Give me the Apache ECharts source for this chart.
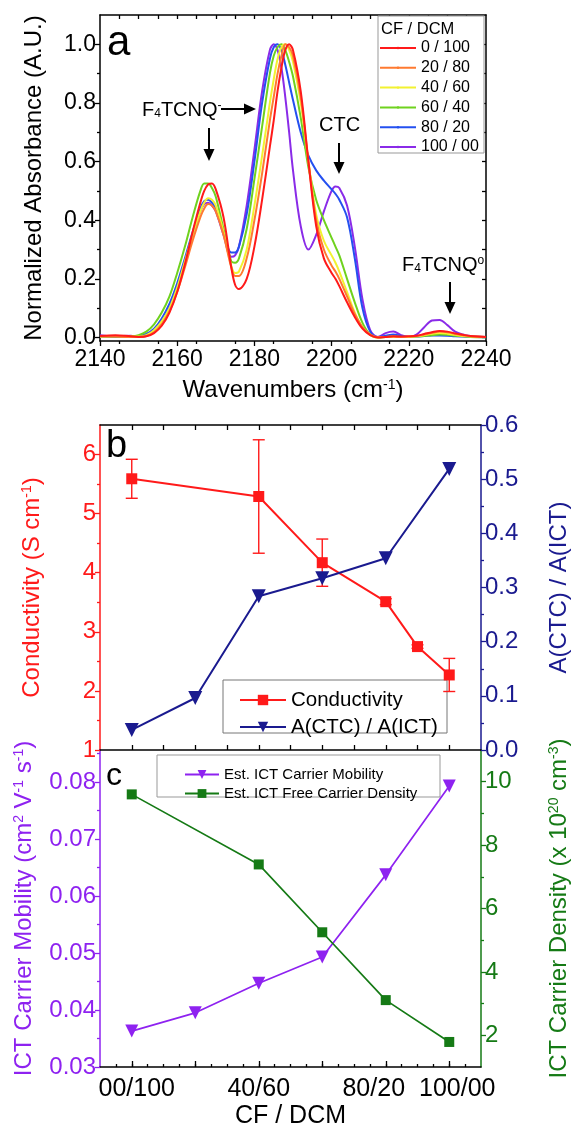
<!DOCTYPE html>
<html lang="en">
<head>
<meta charset="UTF-8">
<title>FTIR / conductivity / mobility</title>
<style>
  html, body { margin: 0; padding: 0; background: #fff; }
  #chart { width: 579px; height: 1132px; }
</style>
<script src="https://cdn.jsdelivr.net/npm/echarts@6/dist/echarts.min.js"></script>
</head>
<body>
<div id="chart"></div>
<script>
// ---- panel a : normalized absorbance spectra ----
var wavenumbers = [2140,2144,2148,2150,2152,2154,2156,2158,2160,2162,2164,2166,2167,2168,2169,2170,2172,2174,2175,2176,2178,2180,2182,2184,2185,2186,2187,2188,2189,2190,2192,2194,2196,2198,2200,2201,2202,2204,2206,2208,2210,2212,2214,2216,2218,2220,2222,2224,2226,2228,2230,2232,2234,2236,2240];
var abs0_100 = [0.005,0.008,0.004,0.002,0.004,0.015,0.04,0.085,0.155,0.25,0.36,0.46,0.5,0.522,0.525,0.505,0.41,0.24,0.18,0.165,0.2,0.31,0.47,0.65,0.74,0.84,0.92,0.98,1.0,0.98,0.84,0.6,0.38,0.27,0.22,0.2,0.175,0.12,0.07,0.03,0.008,0.0,0.002,0.004,0.003,0.004,0.006,0.012,0.018,0.022,0.02,0.014,0.009,0.005,0.002];
var abs20_80 = [0.004,0.003,0.002,0.002,0.005,0.018,0.045,0.09,0.155,0.24,0.33,0.41,0.44,0.455,0.45,0.43,0.35,0.24,0.21,0.21,0.27,0.4,0.56,0.74,0.82,0.9,0.96,1.0,0.99,0.96,0.82,0.6,0.4,0.3,0.245,0.225,0.2,0.14,0.08,0.035,0.01,0.001,0.002,0.003,0.002,0.003,0.005,0.01,0.016,0.02,0.018,0.012,0.008,0.004,0.002];
var abs40_60 = [0.003,0.004,0.003,0.003,0.008,0.025,0.055,0.1,0.17,0.26,0.35,0.43,0.46,0.475,0.47,0.45,0.36,0.245,0.22,0.225,0.3,0.45,0.62,0.8,0.88,0.95,0.99,1.0,0.98,0.94,0.8,0.6,0.42,0.33,0.28,0.255,0.225,0.155,0.085,0.035,0.008,0.0,0.002,0.002,0.002,0.002,0.004,0.008,0.013,0.015,0.013,0.009,0.005,0.003,0.002];
var abs60_40 = [0.003,0.003,0.004,0.008,0.02,0.045,0.085,0.14,0.22,0.31,0.41,0.5,0.525,0.525,0.51,0.48,0.37,0.26,0.255,0.27,0.37,0.54,0.72,0.9,0.96,0.99,1.0,0.98,0.94,0.89,0.75,0.58,0.47,0.4,0.34,0.31,0.28,0.2,0.12,0.05,0.01,0.0,0.002,0.003,0.002,0.002,0.003,0.005,0.008,0.01,0.009,0.006,0.004,0.002,0.001];
var abs80_20 = [0.003,0.002,0.002,0.004,0.012,0.03,0.065,0.115,0.185,0.27,0.36,0.44,0.465,0.47,0.46,0.44,0.36,0.29,0.29,0.31,0.42,0.6,0.8,0.95,0.99,1.0,0.98,0.93,0.87,0.81,0.7,0.62,0.57,0.535,0.505,0.49,0.47,0.41,0.27,0.1,0.02,0.002,0.006,0.01,0.005,0.002,0.003,0.005,0.007,0.007,0.006,0.004,0.003,0.002,0.001];
var abs100_00 = [0.008,0.004,0.006,0.002,0.005,0.02,0.05,0.1,0.17,0.26,0.35,0.43,0.455,0.46,0.45,0.43,0.35,0.275,0.28,0.31,0.45,0.64,0.84,0.98,1.0,0.98,0.92,0.82,0.7,0.57,0.38,0.3,0.35,0.43,0.5,0.515,0.51,0.45,0.31,0.13,0.025,0.002,0.015,0.02,0.008,0.002,0.01,0.035,0.058,0.06,0.042,0.02,0.01,0.005,0.002];
var specNames = ['0 / 100', '20 / 80', '40 / 60', '60 / 40', '80 / 20', '100 / 00'];
var specColors = ['#ff1a1a', '#ff7a30', '#f2f230', '#6fd21e', '#2450f0', '#8a2be8'];
var specData = [abs0_100, abs20_80, abs40_60, abs60_40, abs80_20, abs100_00];
var wnTicks = [2140, 2160, 2180, 2200, 2220, 2240];
var absTicks = [0, 0.2, 0.4, 0.6, 0.8, 1.0];

// ---- panel b ----
var condX = [0, 40, 60, 80, 90, 100];
var conductivity = [5.59, 5.29, 4.17, 3.51, 2.75, 2.27];
var condErr = [0.33, 0.96, 0.4, 0.05, 0.03, 0.28];
var ratioX = [0, 20, 40, 60, 80, 100];
var ratioCTC = [0.037, 0.096, 0.284, 0.317, 0.354, 0.519];

// ---- panel c ----
var mobX = [0, 20, 40, 60, 80, 100];
var mobility = [0.0363, 0.0395, 0.0447, 0.0493, 0.0637, 0.0793];
var densX = [0, 40, 60, 80, 100];
var density = [9.6, 7.39, 5.25, 3.11, 1.79];
var cfTicks = [0, 40, 80, 100];
var cfLabels = {0: '{p0|00/100}', 40: '40/60', 80: '{p80|80/20}', 100: '{p100|100/00}'};

var FONT = 'Liberation Sans, Arial, sans-serif';
var RED = '#ff1a1a', NAVY = '#1a1a8f', PURPLE = '#8e22f0', GREEN = '#157a15';
var supRich = {
  s: { fontSize: 14, verticalAlign: 'top', lineHeight: 16 }
};

function range(a, b, step) {
  var out = [];
  for (var v = a; v <= b + 1e-9; v += step) out.push(+v.toFixed(4));
  return out;
}

// axis helper: one axis line with ticks at given values
function axis(grid, pos, min, max, ticks, o) {
  o = o || {};
  var color = o.color || '#000';
  return {
    type: 'value', gridIndex: grid, position: pos, min: min, max: max,
    splitLine: { show: false },
    axisLine: { show: o.line !== false, onZero: false, lineStyle: { color: color, width: 1.5 } },
    axisTick: { show: true, inside: !!o.inside, length: o.len || 5, customValues: ticks,
      lineStyle: { color: color, width: 1.3 } },
    axisLabel: o.labels ? { show: true, customValues: o.labels, color: color, fontSize: o.fs || 24,
      fontFamily: FONT, margin: o.margin || 4, formatter: o.fmt, rich: o.rich } : { show: false },
    name: o.name, nameLocation: 'middle', nameGap: o.gap, nameRotate: o.rot,
    nameTextStyle: { color: color, fontSize: o.nfs || 24, fontFamily: FONT, rich: supRich }
  };
}

var shiftRich = {
  p0: { fontSize: 25, padding: [0, 0, 0, 10] },
  p80: { fontSize: 25, padding: [0, 24, 0, 0] },
  p100: { fontSize: 25, padding: [0, 0, 0, 16] }
};

var xAxes = [
  axis(0, 'bottom', 2140, 2240, wnTicks, { labels: wnTicks, fs: 23, margin: 7, fmt: function (v) { return String(v); },
    name: 'Wavenumbers (cm{s|-1})', gap: 37 }),
  axis(0, 'bottom', 2140, 2240, range(2145, 2235, 10), { line: false, len: 3 }),
  axis(0, 'top', 2140, 2240, range(2145, 2235, 5), { inside: true, len: 4 }),
  axis(1, 'bottom', -10, 110, range(0, 100, 10), { inside: true, len: 5 }),
  axis(1, 'top', -10, 110, range(0, 100, 10), { inside: true, len: 5 }),
  axis(2, 'bottom', -10, 110, range(0, 100, 20), { inside: true, len: 6, labels: cfTicks, fs: 25, margin: 10,
    fmt: function (v) { return cfLabels[v]; }, rich: shiftRich, name: 'CF / DCM', gap: 37, nfs: 25 }),
  axis(2, 'bottom', -10, 110, range(-5, 105, 5), { inside: true, line: false, len: 3 })
];

var yAxes = [
  axis(0, 'left', -0.012, 1.1, absTicks, { labels: absTicks, fs: 23, fmt: function (v) { return v.toFixed(1); },
    name: 'Normalized Absorbance (A.U.)', gap: 54 }),
  axis(0, 'left', -0.012, 1.1, [0.1, 0.3, 0.5, 0.7, 0.9], { line: false, len: 3 }),
  axis(0, 'right', -0.012, 1.1, range(0, 1, 0.1), { inside: true, len: 4 }),
  axis(1, 'left', 1, 6.5, range(1, 6, 1), { color: RED, labels: range(1, 6, 1),
    name: 'Conductivity (S cm{s|-1})', gap: 56 }),
  axis(1, 'left', 1, 6.5, range(1.5, 6, 1), { color: RED, line: false, len: 3 }),
  axis(1, 'right', 0, 0.6, range(0, 0.6, 0.1), { color: NAVY, labels: range(0, 0.6, 0.1),
    fmt: function (v) { return v.toFixed(1); }, name: 'A(CTC) / A(ICT)', gap: 66 }),
  axis(1, 'right', 0, 0.6, range(0.05, 0.55, 0.1), { color: NAVY, line: false, len: 3 }),
  axis(2, 'left', 0.03, 0.0856, range(0.03, 0.08, 0.01), { color: PURPLE, labels: range(0.03, 0.08, 0.01),
    fmt: function (v) { return v.toFixed(2); }, name: 'ICT Carrier Mobility (cm{s|2} V{s|-1} s{s|-1})', gap: 64 }),
  axis(2, 'left', 0.03, 0.0856, range(0.035, 0.085, 0.01), { color: PURPLE, line: false, len: 3 }),
  axis(2, 'right', 1, 11, [2, 4, 6, 8, 10], { color: GREEN, labels: [2, 4, 6, 8, 10],
    name: 'ICT Carrier Density (x 10{s|20} cm{s|-3})', gap: 66 }),
  axis(2, 'right', 1, 11, [3, 5, 7, 9], { color: GREEN, line: false, len: 3 })
];

var series = [];
// violet drawn first so that red ends on top, as in the figure
for (var i = specNames.length - 1; i >= 0; i--) {
  series.push({
    name: specNames[i], type: 'line', xAxisIndex: 0, yAxisIndex: 0,
    data: wavenumbers.map(function (w, k) { return [w, specData[i][k]]; }),
    symbol: 'none', smooth: 0.35, color: specColors[i],
    lineStyle: { width: 2 }
  });
}

series.push({
  name: 'Conductivity', type: 'line', xAxisIndex: 3, yAxisIndex: 3,
  data: condX.map(function (x, k) { return [x, conductivity[k]]; }),
  symbol: 'rect', symbolSize: 11, color: RED, lineStyle: { width: 2 }, z: 3
});
series.push({
  name: 'condErr', type: 'custom', xAxisIndex: 3, yAxisIndex: 3, z: 3,
  data: condX.map(function (x, k) { return [x, conductivity[k] - condErr[k], conductivity[k] + condErr[k]]; }),
  encode: { x: 0, y: [1, 2] },
  renderItem: function (params, api) {
    var top = api.coord([api.value(0), api.value(2)]);
    var bot = api.coord([api.value(0), api.value(1)]);
    var w = 6, st = { stroke: RED, lineWidth: 1.4 };
    return { type: 'group', children: [
      { type: 'line', shape: { x1: top[0], y1: top[1], x2: bot[0], y2: bot[1] }, style: st },
      { type: 'line', shape: { x1: top[0] - w, y1: top[1], x2: top[0] + w, y2: top[1] }, style: st },
      { type: 'line', shape: { x1: bot[0] - w, y1: bot[1], x2: bot[0] + w, y2: bot[1] }, style: st }
    ]};
  }
});
series.push({
  name: 'A(CTC) / A(ICT)', type: 'line', xAxisIndex: 3, yAxisIndex: 5,
  data: ratioX.map(function (x, k) { return [x, ratioCTC[k]]; }),
  symbol: 'triangle', symbolRotate: 180, symbolSize: 14, color: NAVY, lineStyle: { width: 2 }
});
series.push({
  name: 'Est. ICT Carrier Mobility', type: 'line', xAxisIndex: 5, yAxisIndex: 7,
  data: mobX.map(function (x, k) { return [x, mobility[k]]; }),
  symbol: 'triangle', symbolRotate: 180, symbolSize: 13, color: PURPLE, lineStyle: { width: 1.7 }
});
series.push({
  name: 'Est. ICT Free Carrier Density', type: 'line', xAxisIndex: 5, yAxisIndex: 9,
  data: densX.map(function (x, k) { return [x, density[k]]; }),
  symbol: 'rect', symbolSize: 10, color: GREEN, lineStyle: { width: 1.7 }
});

function arrow(x1, y1, x2, y2) {
  var dx = x2 - x1, dy = y2 - y1, L = Math.sqrt(dx * dx + dy * dy);
  var ux = dx / L, uy = dy / L, h = 12, w = 5.5;
  var bx = x2 - ux * h, by = y2 - uy * h;
  return [
    { type: 'line', shape: { x1: x1, y1: y1, x2: bx, y2: by }, style: { stroke: '#000', lineWidth: 2 } },
    { type: 'polygon', shape: { points: [[x2, y2], [bx - uy * w, by + ux * w], [bx + uy * w, by - ux * w]] },
      style: { fill: '#000' } }
  ];
}

var annRich = {
  sub: { fontSize: 12, verticalAlign: 'bottom', lineHeight: 14 },
  sup: { fontSize: 12, verticalAlign: 'top', lineHeight: 14 }
};
var graphics = [
  { type: 'rect', shape: { x: 378, y: 16, width: 106, height: 137 }, style: { fill: '#fff', stroke: '#999', lineWidth: 1 }, z: 1 },
  { type: 'text', x: 381, y: 21, style: { text: 'CF / DCM', fontSize: 16.5, fontFamily: FONT, fill: '#000' } },
  { type: 'rect', shape: { x: 223, y: 680, width: 224, height: 53 }, style: { fill: '#fff', stroke: '#777', lineWidth: 1 }, z: 1 },
  { type: 'rect', shape: { x: 157, y: 755, width: 283, height: 42 }, style: { fill: '#fff', stroke: '#999', lineWidth: 1 }, z: 1 },
  { type: 'text', x: 107, y: 22, style: { text: 'a', fontSize: 42, fontFamily: FONT, fill: '#000' } },
  { type: 'text', x: 106, y: 428, style: { text: 'b', fontSize: 38, fontFamily: FONT, fill: '#000' } },
  { type: 'text', x: 106, y: 760, style: { text: 'c', fontSize: 32, fontFamily: FONT, fill: '#000' } },
  { type: 'text', x: 142, y: 100, style: { text: 'F{sub|4}TCNQ{sup|-}', fontSize: 20, fontFamily: FONT, fill: '#000', rich: annRich } },
  { type: 'text', x: 319, y: 115, style: { text: 'CTC', fontSize: 20, fontFamily: FONT, fill: '#000' } },
  { type: 'text', x: 402, y: 255, style: { text: 'F{sub|4}TCNQ{sup|o}', fontSize: 20, fontFamily: FONT, fill: '#000', rich: annRich } }
].concat(arrow(221, 109, 256, 109), arrow(209, 128, 209, 161), arrow(339, 143, 339, 174), arrow(450, 282, 450, 314));
graphics.forEach(function (g) { if (g.z == null) g.z = 5; });

var legendText = { fontFamily: FONT, color: '#000' };
var option = {
  animation: false,
  textStyle: { fontFamily: FONT },
  grid: [
    { left: 100, top: 15, width: 386, height: 326 },
    { left: 100, top: 425, width: 386, height: 325 },
    { left: 100, top: 750, width: 386, height: 317 }
  ],
  xAxis: xAxes,
  yAxis: yAxes,
  legend: [
    { data: specNames, orient: 'vertical', left: 379, top: 40, padding: 0, itemWidth: 36, itemHeight: 3, itemGap: 3.8,
      textStyle: Object.assign({ fontSize: 16, lineHeight: 16 }, legendText), z: 6 },
    { data: ['Conductivity', 'A(CTC) / A(ICT)'], orient: 'vertical', left: 234, top: 684, itemWidth: 46, itemHeight: 13,
      itemGap: 5, textStyle: Object.assign({ fontSize: 20.5, lineHeight: 22 }, legendText), z: 6 },
    { data: ['Est. ICT Carrier Mobility', 'Est. ICT Free Carrier Density'], orient: 'vertical', left: 179, top: 762,
      itemWidth: 34, itemHeight: 11, itemGap: 4, textStyle: Object.assign({ fontSize: 15, lineHeight: 15 }, legendText), z: 6 }
  ],
  graphic: graphics,
  series: series
};

var chart = echarts.init(document.getElementById('chart'));
chart.setOption(option);
</script>
</body>
</html>
